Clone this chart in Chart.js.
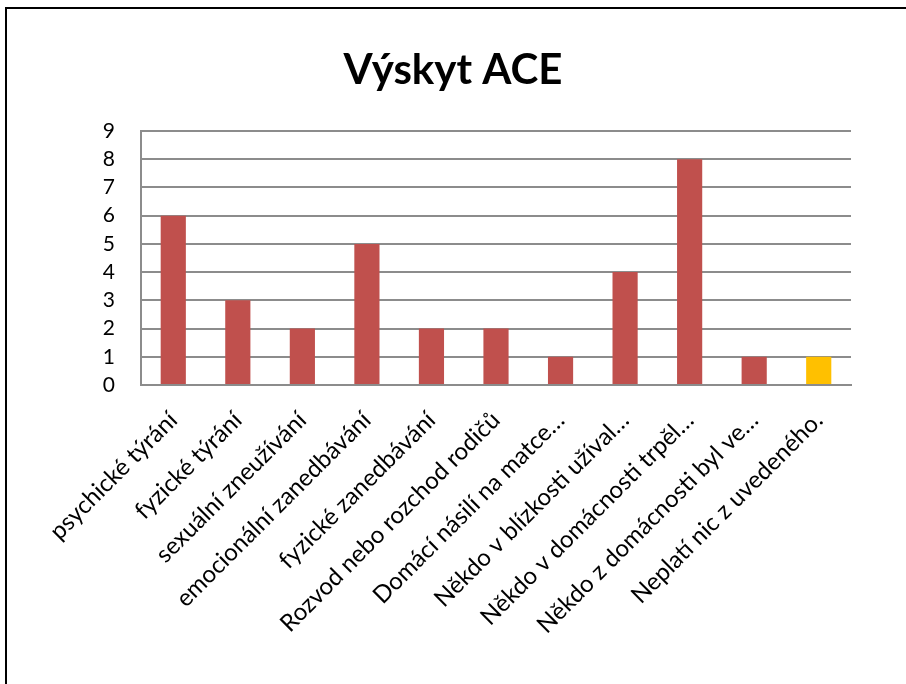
<!DOCTYPE html>
<html>
<head>
<meta charset="utf-8">
<script src="https://cdn.jsdelivr.net/npm/chart.js@4"></script>
<style>
  html, body { margin: 0; padding: 0; background: #fff; }
  #wrap { width: 906px; height: 684px; position: relative; }
</style>
</head>
<body>
<div id="wrap"><canvas id="aceChart"></canvas></div>
<script>
const categories = [
	'psychické týrání',
	'fyzické týrání',
	'sexuální zneužívání',
	'emocionální zanedbávání',
	'fyzické zanedbávání',
	'Rozvod nebo rozchod rodičů',
	'Domácí násilí na matce…',
	'Někdo v blízkosti užíval…',
	'Někdo v domácnosti trpěl…',
	'Někdo z domácnosti byl ve…',
	'Neplatí nic z uvedeného.',
];
const counts = [6, 3, 2, 5, 2, 2, 1, 4, 8, 1, 1];
const barColors = ['#C0504D', '#C0504D', '#C0504D', '#C0504D', '#C0504D', '#C0504D', '#C0504D', '#C0504D', '#C0504D', '#C0504D', '#FFC000'];
const yTicks = [0, 1, 2, 3, 4, 5, 6, 7, 8, 9];

const fontFamily = 'Lato, "Open Sans", sans-serif';

// frame around the chart (top and left edges visible)
const framePlugin = {
	id: 'frame',
	beforeDraw(chart) {
		const c = chart.ctx;
		c.save();
		c.fillStyle = '#fff';
		c.fillRect(0, 0, chart.width, chart.height);
		c.fillStyle = '#000';
		c.fillRect(5, 7, chart.width - 5, 2);
		c.fillRect(5, 7, 2, chart.height - 7);
		c.restore();
	},
};

const ctx = document.getElementById('aceChart').getContext('2d');
new Chart(ctx, {
	type: 'bar',
	data: {
		labels: categories,
		datasets: [
			{
				label: 'Výskyt ACE',
				data: counts,
				backgroundColor: barColors,
				borderWidth: 0,
				barPercentage: 0.39,
				categoryPercentage: 1,
			},
		],
	},
	options: {
		responsive: true,
		maintainAspectRatio: false,
		animation: false,
		layout: { padding: { left: 55, right: 55, top: 0, bottom: 0 } },
		plugins: {
			legend: { display: false },
			tooltip: { enabled: false },
			title: {
				display: true,
				text: 'Výskyt ACE',
				color: '#000',
				font: { family: fontFamily, size: 42, weight: 'bold', lineHeight: 1.2 },
				padding: { top: 45, bottom: 35.6 },
			},
		},
		scales: {
			x: {
				grid: { display: false, drawTicks: false },
				border: { display: true, color: '#8c8c8c', width: 2 },
				ticks: {
					color: '#000',
					font: { family: fontFamily, size: 24 },
					minRotation: 45,
					maxRotation: 45,
					autoSkip: false,
					padding: 21,
				},
				afterFit(scale) {
					scale.height = 299;
				},
			},
			y: {
				min: 0,
				max: 9,
				afterBuildTicks(scale) {
					scale.ticks = yTicks.map((v) => ({ value: v }));
				},
				grid: { color: '#8c8c8c', lineWidth: 2, drawTicks: false },
				border: { display: true, color: '#8c8c8c', width: 2 },
				ticks: {
					color: '#000',
					font: { family: fontFamily, size: 21 },
					padding: 26,
				},
				afterFit(scale) {
					scale.width = 86;
				},
			},
		},
	},
	plugins: [framePlugin],
});
</script>
</body>
</html>
